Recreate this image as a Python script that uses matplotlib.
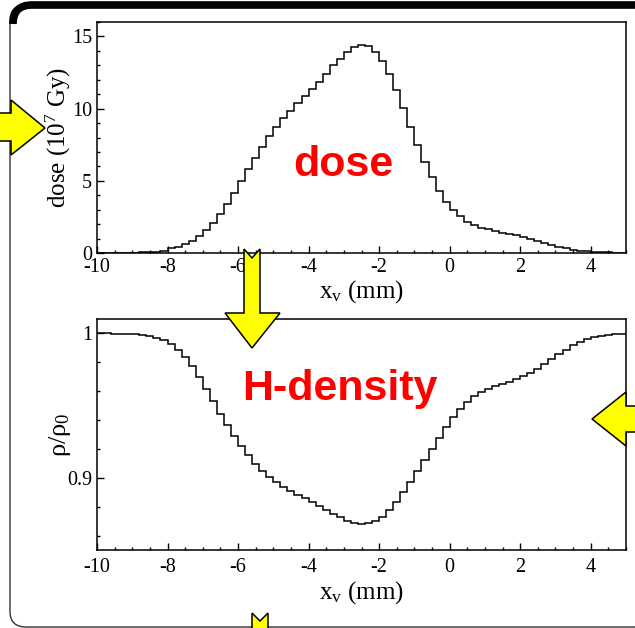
import numpy as np
import matplotlib
matplotlib.use("Agg")
import matplotlib.pyplot as plt
from matplotlib.patches import Polygon, FancyBboxPatch, PathPatch
from matplotlib.path import Path
from matplotlib.ticker import MultipleLocator, FixedLocator

plt.rcParams['font.family'] = ['Liberation Serif', 'DejaVu Serif']
plt.rcParams['mathtext.fontset'] = 'custom'
plt.rcParams['mathtext.rm'] = 'Liberation Serif'
plt.rcParams['mathtext.it'] = 'Liberation Serif:italic'
plt.rcParams['axes.unicode_minus'] = False

# histogram bins: 0.2 mm wide from -10 to 5 mm
x_lo, x_hi, n_bins = -10.0, 5.0, 75
edges = np.linspace(x_lo, x_hi, n_bins + 1)

# dose per bin (10^7 Gy)
dose = [0.0, 0.0, 0.0, 0.01, 0.02, 0.03, 0.05, 0.07, 0.10, 0.16,
        0.32, 0.44, 0.60, 0.83, 1.17, 1.59, 2.09, 2.70, 3.39, 4.19,
        5.00, 5.80, 6.60, 7.35, 8.10, 8.75, 9.36, 9.86, 10.39, 10.87,
        11.33, 11.84, 12.42, 12.99, 13.45, 13.91, 14.26, 14.40, 14.31, 13.91,
        13.29, 12.42, 11.26, 10.05, 8.76, 7.51, 6.29, 5.23, 4.31, 3.55,
        2.95, 2.53, 2.16, 1.94, 1.75, 1.64, 1.52, 1.40, 1.31, 1.22,
        1.08, 0.95, 0.81, 0.67, 0.53, 0.41, 0.32, 0.23, 0.16, 0.12,
        0.09, 0.06, 0.04, 0.02, 0.01]

# relative H density per bin
density = [1.0, 1.0, 0.9999, 0.9997, 0.9995, 0.9993, 0.9988, 0.998, 0.9968, 0.9954,
           0.9926, 0.9887, 0.9836, 0.9772, 0.9698, 0.9617, 0.953, 0.9444, 0.9364, 0.9288,
           0.9218, 0.9156, 0.9096, 0.905, 0.9006, 0.897, 0.8937, 0.891, 0.8882, 0.8857,
           0.8831, 0.8804, 0.8778, 0.875, 0.8727, 0.8704, 0.8688, 0.8681, 0.8686, 0.8704,
           0.8732, 0.8778, 0.8834, 0.8900, 0.8974, 0.9048, 0.9122, 0.92, 0.9276, 0.9352,
           0.9419, 0.9479, 0.9525, 0.9564, 0.9592, 0.9617, 0.9633, 0.965, 0.9666, 0.9684,
           0.9705, 0.9728, 0.9756, 0.9786, 0.982, 0.9855, 0.9887, 0.9917, 0.994, 0.9961,
           0.9975, 0.9984, 0.9991, 0.9995, 0.9998]

x_ticks = [-10, -8, -6, -4, -2, 0, 2, 4]
dose_ticks = [0, 5, 10, 15]
dens_ticks = [0.9, 1.0]
dens_ticklabels = ['0.9', '1']

W, H = 635, 628
fig = plt.figure(figsize=(W / 100, H / 100), dpi=100)


def fpx(pts):
    # pixel coords (from top-left) -> figure fraction
    return [(x / W, 1 - y / H) for x, y in pts]


ax1 = fig.add_axes([97 / W, 1 - 253 / H, 529 / W, 231 / H])
ax2 = fig.add_axes([97 / W, 1 - 550 / H, 529 / W, 231 / H])

ax1.stairs(dose, edges, color='black', lw=1.1, baseline=None)
ax2.stairs(density, edges, color='black', lw=1.1, baseline=None)

ax1.set_xlim(x_lo, x_hi)
ax1.set_ylim(0, 16)
ax2.set_xlim(x_lo, x_hi)
ax2.set_ylim(0.85, 1.01)

for ax in (ax1, ax2):
    for s in ax.spines.values():
        s.set_linewidth(1.1)
    ax.set_xticks(x_ticks)
    ax.xaxis.set_minor_locator(MultipleLocator(0.5))
    ax.tick_params(which='both', direction='in', top=False, right=False,
                   labelsize=14.5, width=1.0)
    ax.tick_params(which='major', length=4.8)
    ax.tick_params(which='minor', length=2.5)
    ax.set_xlabel(r'x$_\mathrm{v}$ (mm)', fontsize=18, labelpad=1)

ax1.set_yticks(dose_ticks)
ax1.yaxis.set_minor_locator(MultipleLocator(1))
ax1.tick_params(axis='x', pad=3.5)
ax1.tick_params(axis='y', pad=3.5)
ax1.set_ylabel(r'dose (10$^7$ Gy)', fontsize=18)
ax1.yaxis.set_label_coords(-0.046, 0.5)

ax2.set_yticks(dens_ticks)
ax2.set_yticklabels(dens_ticklabels)
ax2.yaxis.set_minor_locator(FixedLocator([0.86, 0.88, 0.92, 0.94, 0.96, 0.98]))
ax2.tick_params(axis='x', pad=6)
ax2.tick_params(axis='y', pad=3.5)
ax2.set_ylabel(r'ρ/ρ$_0$', fontsize=19)
ax2.yaxis.set_label_coords(-0.046, 0.5)

ax1.text(0.465, 0.333, 'dose', transform=ax1.transAxes, ha='center', va='baseline',
         fontsize=31, fontweight='bold', family='Liberation Sans', color='#ff0000')
ax2.text(0.459, 0.649, 'H-density', transform=ax2.transAxes, ha='center', va='baseline',
         fontsize=31, fontweight='bold', family='Liberation Sans', color='#ff0000')

# slide frame
frame = FancyBboxPatch((10 / W, 1 - 627 / H), 640 / W, 622 / H,
                       boxstyle='round,pad=0,rounding_size=0.025',
                       transform=fig.transFigure, fc='none', ec='#333333', lw=1.0,
                       zorder=5)
fig.add_artist(frame)
top_bar = Path(fpx([(13, 24), (13, 5), (32, 5), (650, 5)]),
               [Path.MOVETO, Path.CURVE3, Path.CURVE3, Path.LINETO])
fig.add_artist(PathPatch(top_bar, transform=fig.transFigure, fc='none', ec='black',
                         lw=5.5, capstyle='butt', zorder=6))

# yellow arrows
arrows = [
    [(-5, 113), (11, 113), (11, 100), (45, 128), (11, 155), (11, 141), (-5, 141)],
    [(244, 249), (252, 258), (260, 249), (260, 313), (280, 313), (252, 348),
     (225, 313), (244, 313)],
    [(645, 406), (626, 406), (626, 392), (592, 419), (626, 446), (626, 432), (645, 432)],
    [(252, 613), (260, 621), (268, 613), (268, 645), (252, 645)],
]
for a in arrows:
    fig.add_artist(Polygon(fpx(a), closed=True, transform=fig.transFigure,
                           fc='#ffff00', ec='black', lw=1.1, zorder=10))

fig.savefig('out.png', dpi=100, facecolor='white')
